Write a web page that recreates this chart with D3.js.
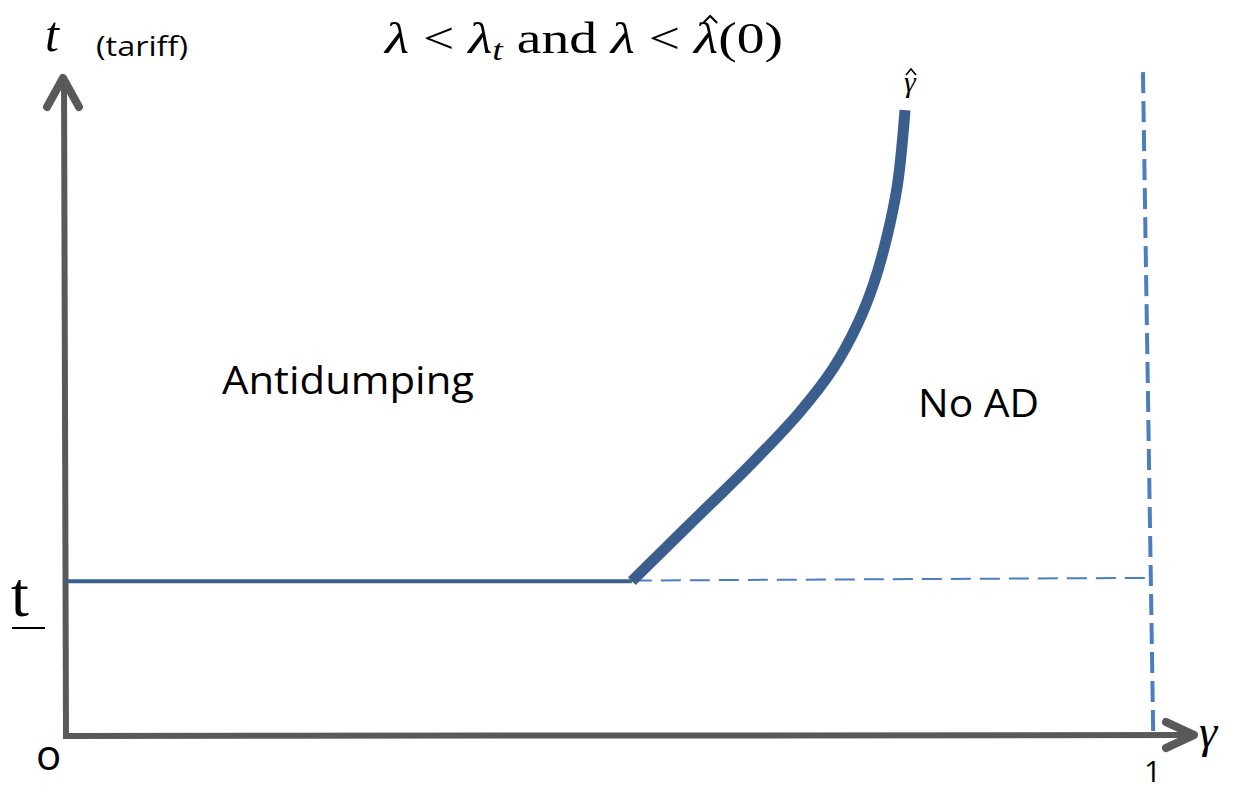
<!DOCTYPE html>
<html><head><meta charset="utf-8">
<script src="https://cdn.jsdelivr.net/npm/d3@7/dist/d3.min.js"></script>
<style>body{margin:0;background:#fff}svg{display:block}</style>
</head><body>
<script>
// data (gamma in [0,1], t in [0,1] of plotted height)
const tBar = 0.236;
const kinkGamma = 0.522;
const flatSegment = [[0, tBar], [kinkGamma, tBar]];
const gammaHatCurve = [[0.522,0.236],[0.573,0.319],[0.634,0.418],[0.677,0.494],[0.708,0.561],[0.730,0.627],[0.745,0.689],[0.757,0.759],[0.767,0.840],[0.774,0.954]];
const dashedH = [[0.522,0.237],[1.0,0.241]];
const dashedV = [[0.9935,1.012],[1.003,0]];
const regionLabels = ["Antidumping","No AD"];
const tickLabels = ["o","1"];

const W=1238,H=791;
const svg=d3.select("body").append("svg").attr("width",W).attr("height",H);
const x=d3.scaleLinear([0,1],[66,1150]);
const y=d3.scaleLinear([0,1],[736,80]);
const axisCol="#595959", darkBlue="#3a5f8e", lightBlue="#4a7ebf";
const line=d3.line().x(d=>x(d[0])).y(d=>y(d[1]));

// dashed lines
svg.append("path").attr("d",line(dashedH)).attr("fill","none").attr("stroke",lightBlue).attr("stroke-width",2).attr("stroke-dasharray","20,9");
svg.append("path").attr("d",line(dashedV)).attr("fill","none").attr("stroke",lightBlue).attr("stroke-width",4).attr("stroke-dasharray","21,8");

// axes
svg.append("line").attr("x1",x(0)).attr("y1",y(0)+1).attr("x2",x(0)-2).attr("y2",y(1)).attr("stroke",axisCol).attr("stroke-width",6);
svg.append("line").attr("x1",x(0)-3).attr("y1",y(0)).attr("x2",1193).attr("y2",y(0)-1).attr("stroke",axisCol).attr("stroke-width",6);
// arrow heads
svg.append("path").attr("d",`M47,107 L63,${y(1)-2} L79,107`).attr("fill","none").attr("stroke",axisCol).attr("stroke-width",8).attr("stroke-linecap","round").attr("stroke-linejoin","round");
svg.append("path").attr("d",`M1166,722 L1194,735 L1166,748`).attr("fill","none").attr("stroke",axisCol).attr("stroke-width",8).attr("stroke-linecap","round").attr("stroke-linejoin","round");

// flat segment & curve
svg.append("path").attr("d",line(flatSegment)).attr("fill","none").attr("stroke",darkBlue).attr("stroke-width",4);
svg.append("path").attr("d",d3.line().x(d=>x(d[0])).y(d=>y(d[1])).curve(d3.curveCatmullRom.alpha(0.5))(gammaHatCurve)).attr("fill","none").attr("stroke",darkBlue).attr("stroke-width",11);

// texts
const serif="'Liberation Serif','DejaVu Serif',serif";
const sans="'Open Sans','Noto Sans',sans-serif";
svg.append("text").attr("x",45).attr("y",51).attr("font-family",serif).attr("font-style","italic").attr("font-size",50).text("t");
svg.append("text").attr("x",96).attr("y",56).attr("font-family",sans).attr("font-size",27).attr("textLength",92).attr("lengthAdjust","spacingAndGlyphs").text("(tariff)");

const title=svg.append("text").attr("x",385).attr("y",53).attr("font-family",serif).attr("font-size",44).attr("textLength",398).attr("lengthAdjust","spacingAndGlyphs");
title.append("tspan").attr("font-style","italic").text("λ");
title.append("tspan").text(" < ");
title.append("tspan").attr("font-style","italic").text("λ");
title.append("tspan").attr("font-style","italic").attr("font-size",30).attr("dy",7).text("t");
title.append("tspan").attr("dy",-7).text(" and ");
title.append("tspan").attr("font-style","italic").text("λ");
title.append("tspan").text(" < ");
title.append("tspan").attr("font-style","italic").text("λ");
title.append("tspan").text("(0)");
// hat over last lambda (drawn as a path)
{
  const n=title.node();
  const idx=n.getNumberOfChars()-4;
  const ext=n.getExtentOfChar(idx);
  const cx=ext.x+ext.width/2+4, cy=ext.y+4;
  svg.append("path").attr("d",`M${cx-7},${cy+5} L${cx},${cy-2} L${cx+7},${cy+5}`).attr("fill","none").attr("stroke","#000").attr("stroke-width",2);
}

svg.append("text").attr("x",11).attr("y",616).attr("font-family",serif).attr("font-size",64).text("t");
svg.append("line").attr("x1",12).attr("x2",45).attr("y1",628).attr("y2",628).attr("stroke","#000").attr("stroke-width",2);

svg.append("text").attr("x",36).attr("y",770).attr("font-family",sans).attr("font-size",42).text(tickLabels[0]);
svg.append("text").attr("x",x(1)-6).attr("y",782).attr("font-family",sans).attr("font-size",30).text(tickLabels[1]);
svg.append("text").attr("x",1199).attr("y",747).attr("font-family",serif).attr("font-style","italic").attr("font-size",46).text("γ");

svg.append("text").attr("x",904).attr("y",92).attr("font-family",serif).attr("font-style","italic").attr("font-size",30).text("γ");
svg.append("path").attr("d","M906,75 L911,69 L916,75").attr("fill","none").attr("stroke","#000").attr("stroke-width",1.6);

svg.append("text").attr("x",222).attr("y",394).attr("font-family",sans).attr("font-size",38).attr("textLength",252).attr("lengthAdjust","spacingAndGlyphs").text(regionLabels[0]);
svg.append("text").attr("x",918).attr("y",417).attr("font-family",sans).attr("font-size",38).attr("textLength",121).attr("lengthAdjust","spacingAndGlyphs").text(regionLabels[1]);
</script>
</body></html>
